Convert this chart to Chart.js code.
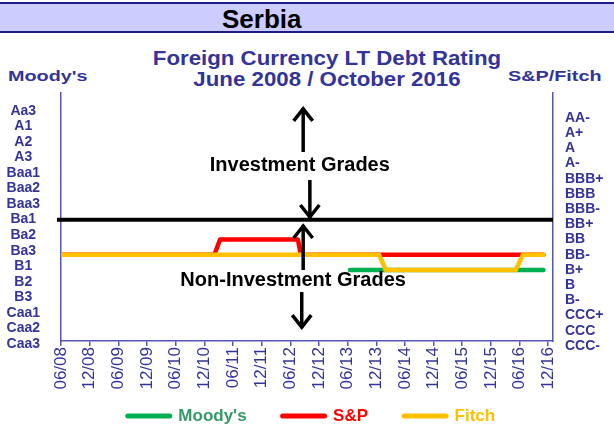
<!DOCTYPE html>
<html>
<head>
<meta charset="utf-8">
<title>Serbia - Foreign Currency LT Debt Rating</title>
<script src="https://cdn.jsdelivr.net/npm/chart.js@4.4.1/dist/chart.umd.min.js"></script>
<style>
  html, body { margin: 0; padding: 0; background: #fff; }
  #wrap { position: relative; width: 614px; height: 436px; overflow: hidden; }
  #wrap canvas { position: absolute; left: 0; top: 0; }
  #band { position: absolute; left: 0; top: 2px; width: 614px; height: 27px; background: #ccccff;
          border-top: 2px solid #1c1c86; border-bottom: 2px solid #1c1c86; }
  #country { position: absolute; left: 222px; top: 4px; font: bold 26px "Liberation Sans", Arial, sans-serif;
             line-height: 30px; color: #000; white-space: nowrap; }
  #heading { position: absolute; left: 127px; top: 47px; width: 400px; text-align: center;
             font: bold 21px "Liberation Sans", Arial, sans-serif; line-height: 21px; color: #333399;
             transform: scaleX(1.06); transform-origin: center; }
  .agency { position: absolute; top: 68px; font: bold 15px "Liberation Sans", Arial, sans-serif;
            line-height: 15px; color: #333399; white-space: nowrap; transform: scaleX(1.32); transform-origin: left; }
</style>
</head>
<body>
<div id="wrap">
  <div id="band"></div>
  <div id="country">Serbia</div>
  <div id="heading">Foreign Currency LT Debt Rating<br>June 2008 / October 2016</div>
  <div class="agency" style="left:8px">Moody's</div>
  <div class="agency" style="left:508px">S&amp;P/Fitch</div>
  <canvas id="chart" width="614" height="436"></canvas>
</div>
<script>
// x axis: months since June 2008
var xTickMonths = [0, 6, 12, 18, 24, 30, 36, 42, 48, 54, 60, 66, 72, 78, 84, 90, 96, 102];
var xTickLabels = ['06/08', '12/08', '06/09', '12/09', '06/10', '12/10', '06/11', '12/11', '06/12',
                   '12/12', '06/13', '12/13', '06/14', '12/14', '06/15', '12/15', '06/16', '12/16'];

// rating scales, rank 0 = lowest
var moodysScale = ['Caa3', 'Caa2', 'Caa1', 'B3', 'B2', 'B1', 'Ba3', 'Ba2', 'Ba1',
                   'Baa3', 'Baa2', 'Baa1', 'A3', 'A2', 'A1', 'Aa3'];
var spFitchScale = ['CCC-', 'CCC', 'CCC+', 'B-', 'B', 'B+', 'BB-', 'BB', 'BB+',
                    'BBB-', 'BBB', 'BBB+', 'A-', 'A', 'A+', 'AA-'];

// rating histories (month, rank)
var moodysMonths = [60.5, 101];
var moodysRanks  = [5, 5];
var spMonths = [0, 32.1, 33.3, 49.6, 50.2, 101];
var spRanks  = [6, 6, 7, 7, 6, 6];
var fitchMonths = [0, 66.6, 68, 95.2, 96.7, 101];
var fitchRanks  = [6, 6, 5, 5, 6, 6];

// investment / non-investment grade border
var gradeBorderRank = 8.3;
var gradeBorderMonths = [-0.85, 103];

var textColor = '#333399',
    axisColor = '#5656b4',
    fontFamily = '"Liberation Sans", Arial, sans-serif';

// arrows: month, from rank, to rank (head at "to")
var arrows = [
    [50.7, 12.76, 15.66],
    [52.1, 10.92, 8.42],
    [50.7, 5.0, 7.96],
    [50.4, 3.55, 1.18]
];
var arrowTexts = ['Investment Grades', 'Non-Investment Grades'];
var arrowTextMonths = [50.0, 48.6];
var arrowTextRanks = [11.9, 4.28];

function toPoints(months, ranks) {
    return months.map(function (m, i) { return {x: m, y: ranks[i]}; });
}

// tick labels run outside the axis boxes, don't clip them
function noLabelClip(scale) {
    scale._computeLabelArea = function () { return undefined; };
}

var gradeArrows = {
    id: 'gradeArrows',
    afterDatasetsDraw: function (chart) {
        var ctx = chart.ctx,
            xs = chart.scales.x,
            ys = chart.scales.y2;
        ctx.save();
        ctx.strokeStyle = '#000';
        ctx.fillStyle = '#000';
        ctx.lineWidth = 3.5;
        ctx.lineCap = 'butt';
        arrows.forEach(function (a) {
            var x = xs.getPixelForValue(a[0]),
                y0 = ys.getPixelForValue(a[1]),
                y1 = ys.getPixelForValue(a[2]),
                dir = y1 < y0 ? 1 : -1;
            ctx.beginPath();
            ctx.moveTo(x, y0);
            ctx.lineTo(x, y1);
            ctx.stroke();
            ctx.beginPath();
            ctx.moveTo(x - 9.5, y1 + dir * 13);
            ctx.lineTo(x, y1 + dir * 1);
            ctx.lineTo(x + 9.5, y1 + dir * 13);
            ctx.stroke();
        });
        ctx.font = 'bold 20px ' + fontFamily;
        ctx.textAlign = 'center';
        ctx.textBaseline = 'middle';
        arrowTexts.forEach(function (t, i) {
            ctx.fillText(t, xs.getPixelForValue(arrowTextMonths[i]), ys.getPixelForValue(arrowTextRanks[i]));
        });
        ctx.restore();
    }
};

var lineStyle = {
    borderWidth: 4.5,
    pointRadius: 0,
    tension: 0,
    fill: false,
    borderCapStyle: 'round',
    borderJoinStyle: 'round',
    yAxisID: 'y2'
};

var legendColors = ['#339966', '#ff0000', '#ffc000'];

var chart = new Chart(document.getElementById('chart'), {
    type: 'line',
    data: {
        datasets: [
            Object.assign({label: "Moody's", borderColor: '#00b050', order: 2,
                data: toPoints(moodysMonths, moodysRanks)}, lineStyle),
            Object.assign({label: 'S&P', borderColor: '#ff0000', order: 1,
                data: toPoints(spMonths, spRanks)}, lineStyle),
            Object.assign({label: 'Fitch', borderColor: '#ffc000', order: 0,
                data: toPoints(fitchMonths, fitchRanks)}, lineStyle),
            Object.assign({}, lineStyle, {label: 'border', borderColor: '#000', borderWidth: 4,
                borderCapStyle: 'butt', order: 3, clip: {left: 6, top: 0, right: 0, bottom: 0},
                data: toPoints(gradeBorderMonths, [gradeBorderRank, gradeBorderRank])})
        ]
    },
    options: {
        responsive: false,
        animation: false,
        events: [],
        layout: {padding: {top: 93, left: 9, right: 0, bottom: 1.5}},
        plugins: {
            title: {display: false},
            tooltip: {enabled: false},
            legend: {
                display: true,
                position: 'bottom',
                labels: {
                    usePointStyle: true,
                    pointStyleWidth: 42,
                    padding: 36,
                    font: {family: fontFamily, size: 17, weight: 'bold'},
                    generateLabels: function (chart) {
                        return chart.data.datasets.slice(0, 3).map(function (ds, i) {
                            return {
                                text: ds.label,
                                fontColor: legendColors[i],
                                fillStyle: ds.borderColor,
                                strokeStyle: ds.borderColor,
                                lineWidth: 5,
                                lineCap: 'round',
                                pointStyle: 'line',
                                hidden: false,
                                datasetIndex: i
                            };
                        });
                    }
                }
            }
        },
        scales: {
            x: {
                type: 'linear',
                min: 0,
                max: 103,
                afterBuildTicks: function (scale) {
                    scale.ticks = xTickMonths.map(function (m) { return {value: m}; });
                },
                afterFit: function (scale) { scale.height = 30.5; noLabelClip(scale); },
                ticks: {
                    autoSkip: false,
                    minRotation: 90,
                    maxRotation: 90,
                    padding: 1,
                    color: textColor,
                    font: {family: fontFamily, size: 17},
                    callback: function (v, i) { return xTickLabels[i]; }
                },
                grid: {drawOnChartArea: false, drawTicks: true, tickLength: 5, color: axisColor, lineWidth: 1.5},
                border: {color: axisColor, width: 1.5}
            },
            y: {
                type: 'linear',
                position: 'left',
                min: 0.19,
                max: 16.14,
                afterBuildTicks: function (scale) {
                    scale.ticks = moodysScale.map(function (r, i) { return {value: i}; });
                },
                afterFit: function (scale) {
                    scale.width = 52; scale.paddingTop = 0; scale.paddingBottom = 0; noLabelClip(scale);
                },
                ticks: {
                    autoSkip: false,
                    crossAlign: 'center',
                    padding: 21,
                    color: textColor,
                    font: {family: fontFamily, size: 14, weight: 'bold'},
                    callback: function (v, i) { return moodysScale[i]; }
                },
                grid: {display: false, drawTicks: false},
                border: {color: axisColor, width: 1.5}
            },
            y2: {
                type: 'linear',
                position: 'right',
                min: 0.33,
                max: 16.64,
                afterBuildTicks: function (scale) {
                    scale.ticks = spFitchScale.map(function (r, i) { return {value: i}; });
                },
                afterFit: function (scale) {
                    scale.width = 61; scale.paddingTop = 0; scale.paddingBottom = 0; noLabelClip(scale);
                },
                ticks: {
                    autoSkip: false,
                    crossAlign: 'near',
                    padding: 12,
                    color: textColor,
                    font: {family: fontFamily, size: 14, weight: 'bold'},
                    callback: function (v, i) { return spFitchScale[i]; }
                },
                grid: {display: false, drawTicks: false},
                border: {color: axisColor, width: 1.5}
            }
        }
    },
    plugins: [gradeArrows]
});
</script>
</body>
</html>
